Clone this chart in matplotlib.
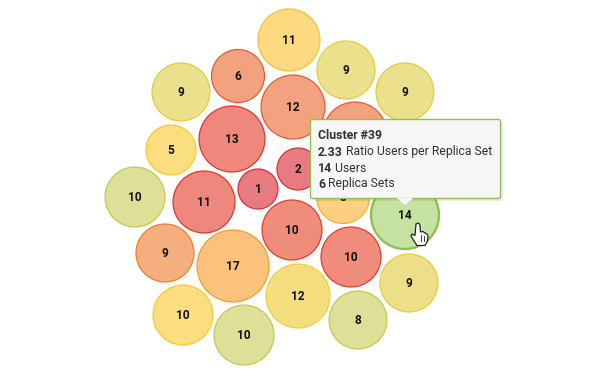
import matplotlib
matplotlib.use("Agg")
import matplotlib.pyplot as plt
from matplotlib.patches import Circle, FancyBboxPatch, Polygon

plt.rcParams['font.family'] = ['Roboto', 'DejaVu Sans']

labels = [11, 9, 9, 6, 9, 12, None, 13, 5, 2, 1, 10, 11, 8, 14, 10, 10, 9, 8, 12, 10, 10, 17, 9]
x = [289, 346, 405, 238, 181, 293, 355, 232, 171, 298, 258, 135, 204, 343, 405, 292, 351, 409, 358, 298, 244, 183, 233, 165]
y = [40, 70, 92, 76, 92, 107, 134, 139, 150, 169, 189, 197, 202, 197, 215, 230, 257, 283, 320, 296, 335, 315, 266, 253]
r = [31, 29, 29, 26.5, 29, 32, 32, 33, 25, 21, 20, 30, 31, 26.5, 34, 30, 30, 29, 29, 32, 30, 30, 36, 29]
fills = ['#fdd980', '#ebe08c', '#ebe08c', '#f2a27e', '#ebe08c', '#f2a27e', '#f2a27e', '#ef887c', '#fade80',
         '#e77b80', '#e77b80', '#dde096', '#ef887c', '#fdcf80', '#c5e2a0', '#ef8c7c', '#ef8c7c',
         '#ecdf88', '#dde096', '#f5de7e', '#dde096', '#fade80', '#fac27c', '#f5ae7e']
edges = ['#f9be2a', '#e5c93a', '#e5c93a', '#e8552a', '#e5c93a', '#e8552a', '#e8552a', '#e03028', '#f8c82a',
         '#d82a3a', '#d82a3a', '#bfc84e', '#e03028', '#f9ae2a', '#8cc152', '#e03822', '#e03822',
         '#e5c93a', '#bfc84e', '#f2cd35', '#bfc84e', '#f8c82a', '#f59a22', '#f07a22']

tooltip_title = 'Cluster #39'
tooltip_rows = [('2.33', ' Ratio Users per Replica Set'), ('14', ' Users'), ('6', ' Replica Sets')]

fig = plt.figure(figsize=(6.06, 3.75), dpi=100)
ax = fig.add_axes([0, 0, 1, 1])
ax.set_xlim(0, 606)
ax.set_ylim(375, 0)
ax.axis('off')

for i in range(len(labels)):
    lw = 1.7 if labels[i] == 14 else 0.85
    ax.add_patch(Circle((x[i], y[i]), r[i], facecolor=fills[i], edgecolor=edges[i], lw=lw, zorder=2))
    if labels[i] is not None:
        ax.text(x[i], y[i] + 0.8, str(labels[i]), ha='center', va='center', fontsize=8.6,
                fontweight='bold', color='#111111', zorder=3)

# tooltip shadow, box, pointer
ax.add_patch(FancyBboxPatch((313, 122), 190, 79, boxstyle='round,pad=0,rounding_size=2',
                            facecolor='#000000', alpha=0.08, edgecolor='none', zorder=4))
ax.add_patch(FancyBboxPatch((310.5, 119.5), 190, 79, boxstyle='round,pad=0,rounding_size=2',
                            facecolor='#f7f7f7', edgecolor='#8cc152', lw=1.0, zorder=5))
ax.add_patch(Polygon([[397, 198], [405, 205], [413, 198]], closed=True, facecolor='#f7f7f7',
                     edgecolor='none', zorder=6))
ax.plot([397, 405, 413], [199, 205.5, 199], color='#d0d0d0', lw=0.5, zorder=5.5)

ax.text(318, 135.7, tooltip_title, fontsize=8.8, fontweight='bold', color='#333333', va='center', zorder=7)
for j, (b, t) in enumerate(tooltip_rows):
    bt = ax.text(318, 152 + j * 16, b, fontsize=8.8, fontweight='bold', color='#333333', va='center', zorder=7)
    ax.annotate(t, xy=(1, 0.5), xycoords=bt, va='center', fontsize=8.8, color='#333333', zorder=7)

# hand cursor
hand = [[416, 224], [418.5, 223], [420, 225], [420.5, 232], [423, 231.5], [425, 233], [427, 234], [428, 236],
        [427.5, 241], [425, 245.5], [417, 245.5], [414, 241], [411, 236], [412, 234], [415, 235.5]]
ax.add_patch(Polygon(hand, closed=True, facecolor='white', edgecolor='#222222', lw=0.9, zorder=8))
ax.plot([421, 421], [235, 241], color='#222222', lw=0.6, zorder=9)
ax.plot([424, 424], [236, 241], color='#222222', lw=0.6, zorder=9)

fig.savefig('out.png', dpi=100, facecolor='white')
